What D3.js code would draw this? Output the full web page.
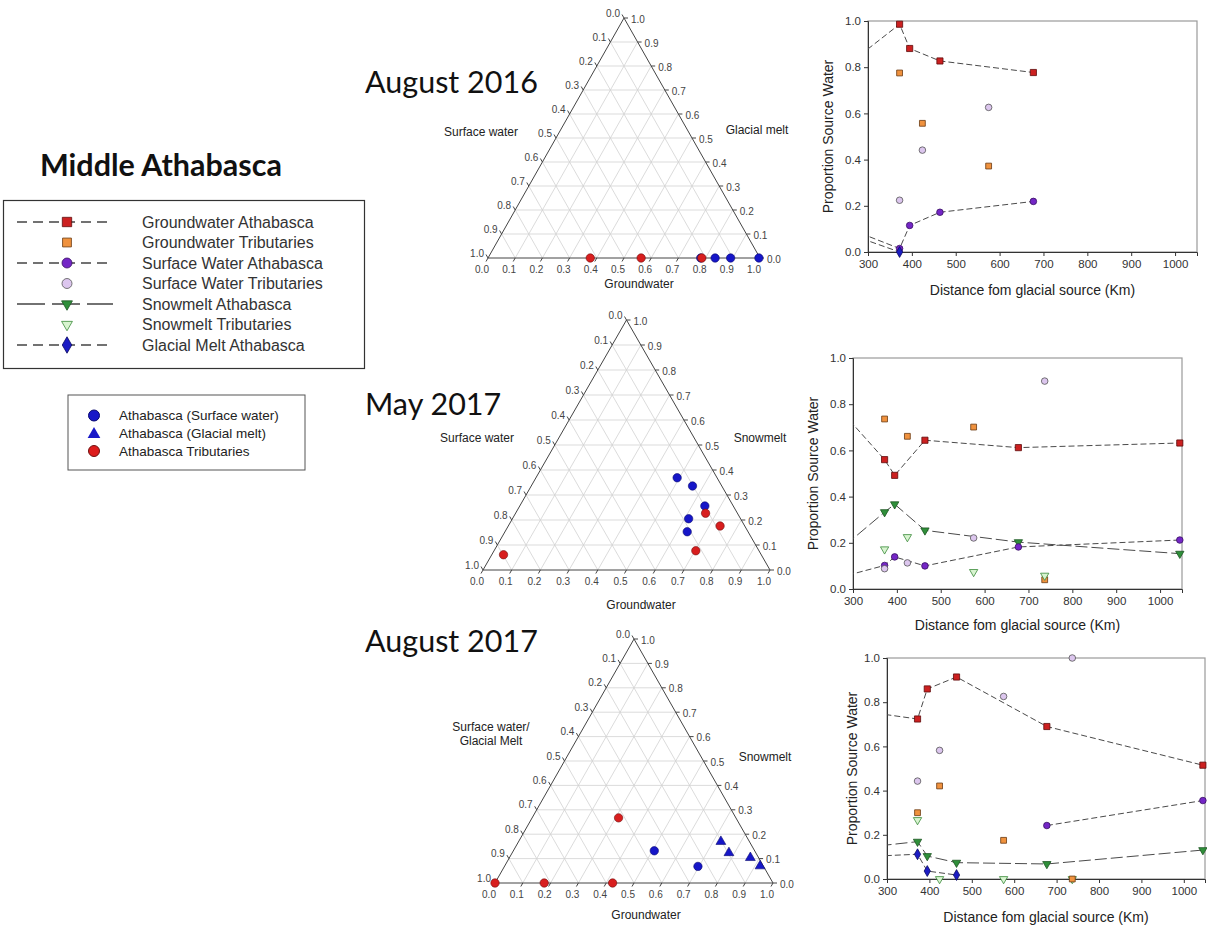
<!DOCTYPE html>
<html>
<head>
<meta charset="utf-8">
<script src="https://cdn.jsdelivr.net/npm/d3@7"></script>
<style>
  body { margin: 0; background: #fff; }
  svg { display: block; }
  text { font-family: Arial, "Liberation Sans", sans-serif; }
</style>
</head>
<body>
<div id="chart"></div>
<script>
// ---- data ----
// sampling sites, km from glacial source (first Athabasca site lies upstream of the plotted range)
var athKm  = [170, 372, 395, 464, 677, 1045];
var tribKm = [372, 424, 575, 737];

// August 2016 proportions
var gwAth16  = [0.686, 0.986, 0.881, 0.827, 0.777, null];
var swAth16  = [0.165, 0.015, 0.115, 0.172, 0.219, null];
var gmAth16  = [0.136, 0.000, null,  null,  null,  null];
var gwTrib16 = [0.775, 0.557, 0.372, null];
var swTrib16 = [0.224, 0.441, 0.626, null];

// May 2017 proportions
var gwAth17a  = [0.990, 0.560, 0.492, 0.644, 0.612, 0.632];
var swAth17a  = [0.000, 0.102, 0.139, 0.100, 0.182, 0.212];
var snAth17a  = [0.010, 0.333, 0.367, 0.254, 0.203, 0.153];
var gwTrib17a = [0.736, 0.661, 0.701, 0.040];
var swTrib17a = [0.088, 0.113, 0.221, 0.900];
var snTrib17a = [0.172, 0.225, 0.074, 0.058];

// August 2017 proportions
var gwAth17b  = [0.778, 0.724, 0.860, 0.914, 0.690, 0.515];
var swAth17b  = [null,  null,  null,  null,  0.242, 0.355];
var snAth17b  = [0.127, 0.169, 0.104, 0.074, 0.068, 0.131];
var gmAth17b  = [0.095, 0.112, 0.036, 0.018, null,  null];
var gwTrib17b = [0.300, 0.421, 0.175, 0.000];
var swTrib17b = [0.443, 0.582, 0.826, 1.000];
var snTrib17b = [0.267, 0.000, 0.000, 0.000];

// ternary diagrams: groundwater share (bottom axis) and top-corner share
var tGwAth16   = [0.782, 0.835, 0.892, 0.996];
var tTopAth16  = [0, 0, 0, 0];
var tGwTrib16  = [0.376, 0.563, 0.786];
var tTopTrib16 = [0, 0, 0];

var tGwAth17a   = [0.492, 0.562, 0.645, 0.614, 0.635];
var tTopAth17a  = [0.369, 0.336, 0.256, 0.205, 0.153];
var tGwTrib17a  = [0.662, 0.738, 0.703, 0.041];
var tTopTrib17a = [0.227, 0.176, 0.077, 0.061];

var tGwSw17b    = [0.507, 0.696];
var tTopSw17b   = [0.132, 0.068];
var tGwGm17b    = [0.726, 0.778, 0.865, 0.917];
var tTopGm17b   = [0.173, 0.127, 0.107, 0.073];
var tGwTrib17b  = [0.311, 0.000, 0.177, 0.423];
var tTopTrib17b = [0.267, 0.000, 0.000, 0.000];

var legendNames = ["Groundwater Athabasca", "Groundwater Tributaries", "Surface Water Athabasca",
                   "Surface Water Tributaries", "Snowmelt Athabasca", "Snowmelt Tributaries",
                   "Glacial Melt Athabasca"];
var legendKeys = ["gwAth", "gwTrib", "swAth", "swTrib", "snAth", "snTrib", "gmAth"];
var ternNames = ["Athabasca (Surface water)", "Athabasca (Glacial melt)", "Athabasca Tributaries"];
var tickFrac = d3.range(0, 11).map(function(i){ return i / 10; });

// ---- styles ----
var styles = {
  gwAth:  { shape: d3.symbolSquare,   size: 38, fill: "#cc2020", stroke: "#5e0b0b", dash: "6,3" },
  gwTrib: { shape: d3.symbolSquare,   size: 34, fill: "#f0923e", stroke: "#6a3a12" },
  swAth:  { shape: d3.symbolCircle,   size: 34, fill: "#7426c6", stroke: "#3a1263", dash: "6,3" },
  swTrib: { shape: d3.symbolCircle,   size: 34, fill: "#dcc6ee", stroke: "#555" },
  snAth:  { shape: d3.symbolTriangle, size: 30, fill: "#2f8f3a", stroke: "#1d5522", dash: "12,4", flip: true },
  snTrib: { shape: d3.symbolTriangle, size: 30, fill: "#d8f4d0", stroke: "#3a8a3a", flip: true },
  gmAth:  { shape: d3.symbolDiamond,  size: 34, fill: "#1c1cc4", stroke: "#0b0b60", dash: "6,3" }
};

var svg = d3.select("#chart").append("svg")
  .attr("width", 1207).attr("height", 926);
svg.append("rect").attr("width", 1207).attr("height", 926).attr("fill", "#fff");

function marker(sel, st, scale) {
  sel.append("path")
    .attr("d", d3.symbol().type(st.shape).size(st.size * (scale || 1)))
    .attr("fill", st.fill)
    .attr("stroke", st.stroke)
    .attr("stroke-width", 0.8);
}

// ---- titles ----
svg.append("text").attr("x", 40).attr("y", 176)
  .style("font-family", "Lato, 'Open Sans', sans-serif")
  .style("font-weight", "bold").style("font-size", "30.5px").attr("fill", "#111")
  .text("Middle Athabasca");

var panelTitles = [["August 2016", 93], ["May 2017", 415], ["August 2017", 652]];
svg.selectAll(".ptitle").data(panelTitles).enter().append("text")
  .attr("x", 365).attr("y", function(d){ return d[1]; })
  .style("font-family", "Lato, 'Open Sans', sans-serif")
  .style("font-size", "30.5px").attr("fill", "#111")
  .text(function(d){ return d[0]; });

// ---- legend 1 ----
var leg = svg.append("g");
leg.append("rect").attr("x", 3.5).attr("y", 200.5).attr("width", 361).attr("height", 168)
  .attr("fill", "#fff").attr("stroke", "#333").attr("stroke-width", 1.2);
var legY = d3.scalePoint().domain(legendKeys).range([222, 345]);
legendKeys.forEach(function(k, i){
  var st = styles[k];
  var row = leg.append("g").attr("transform", "translate(0," + legY(k) + ")");
  if (st.dash) {
    row.append("line").attr("x1", 17).attr("x2", 113)
      .attr("stroke", "#444").attr("stroke-width", 1.6)
      .attr("stroke-dasharray", k === "snAth" ? "28,7" : "10,6");
  }
  var m = row.append("g").attr("transform", "translate(67,0)" + (st.flip ? " rotate(180)" : ""));
  marker(m, st, st.flip ? 1.7 : 2.3);
  row.append("text").attr("x", 142).attr("y", 5.5)
    .style("font-size", "16px").attr("fill", "#333").text(legendNames[i]);
});

// ---- legend 2 ----
var leg2 = svg.append("g");
leg2.append("rect").attr("x", 68).attr("y", 395).attr("width", 237).attr("height", 75)
  .attr("fill", "#fff").attr("stroke", "#555");
var leg2Y = d3.scalePoint().domain(ternNames).range([415.5, 451]);
ternNames.forEach(function(n, i){
  var y = leg2Y(n);
  if (i === 1) {
    leg2.append("path").attr("transform", "translate(94," + (y + 1) + ")")
      .attr("d", d3.symbol().type(d3.symbolTriangle).size(70)).attr("fill", "#1818c8");
  } else {
    leg2.append("circle").attr("cx", 94).attr("cy", y).attr("r", 5.5)
      .attr("fill", i === 0 ? "#1818c8" : "#dd1c1c").attr("stroke", i === 0 ? "#0a0a70" : "#701010");
  }
  leg2.append("text").attr("x", 119).attr("y", y + 4.5)
    .style("font-size", "13.5px").attr("fill", "#222").text(n);
});

// ---- ternary diagrams ----
function drawTernary(o) {
  var g = svg.append("g");
  var xs = d3.scaleLinear().domain([0, 1]).range([o.x0, o.x1]);
  var ys = d3.scaleLinear().domain([0, 1]).range([o.yb, o.yb - o.h]);
  function pt(gw, top) { return [xs(gw + top / 2), ys(top)]; }

  var grid = [];
  tickFrac.slice(1, 10).forEach(function(k){
    grid.push([pt(0, k), pt(1 - k, k)]);
    grid.push([pt(k, 0), pt(k, 1 - k)]);
    grid.push([pt(1 - k, 0), pt(0, 1 - k)]);
  });
  g.selectAll(".grid").data(grid).enter().append("line")
    .attr("x1", function(d){ return d[0][0]; }).attr("y1", function(d){ return d[0][1]; })
    .attr("x2", function(d){ return d[1][0]; }).attr("y2", function(d){ return d[1][1]; })
    .attr("stroke", "#d2d2d2").attr("stroke-width", 0.8);

  g.append("path")
    .attr("d", d3.line()([pt(0, 0), pt(1, 0), pt(0, 1)]) + "Z")
    .attr("fill", "none").attr("stroke", "#444").attr("stroke-width", 1);

  var f = d3.format(".1f");
  var ticks = [];
  tickFrac.forEach(function(v){
    ticks.push({ p: pt(v, 0), d: [-2, 3.5], lx: -6, ly: 11, anchor: "middle", t: f(v) });
    ticks.push({ p: pt(0, 1 - v), d: [-2, -3.5], lx: -4, ly: -5, anchor: "end", t: f(v) });
    ticks.push({ p: pt(1 - v, v), d: [4, 0], lx: 7, ly: 1, anchor: "start", t: f(v) });
  });
  g.selectAll(".tk").data(ticks).enter().append("line")
    .attr("x1", function(d){ return d.p[0]; }).attr("y1", function(d){ return d.p[1]; })
    .attr("x2", function(d){ return d.p[0] + d.d[0]; }).attr("y2", function(d){ return d.p[1] + d.d[1]; })
    .attr("stroke", "#444");
  g.selectAll(".tl").data(ticks).enter().append("text")
    .attr("x", function(d){ return d.p[0] + d.lx; })
    .attr("y", function(d){ return d.p[1] + d.ly; })
    .attr("dy", "0.35em").attr("text-anchor", function(d){ return d.anchor; })
    .style("font-size", "10px").attr("fill", "#444")
    .text(function(d){ return d.t; });

  o.labels.forEach(function(l){
    g.append("text").attr("x", l[1]).attr("y", l[2]).attr("dy", "0.35em")
      .attr("text-anchor", "middle").style("font-size", "12px").attr("fill", "#222").text(l[0]);
  });

  o.sets.forEach(function(s){
    s.gw.forEach(function(gw, i){
      var p = pt(gw, s.top[i]);
      if (s.tri) {
        g.append("path").attr("transform", "translate(" + p[0] + "," + (p[1] + 0.8) + ")")
          .attr("d", d3.symbol().type(d3.symbolTriangle).size(42))
          .attr("fill", s.fill).attr("stroke", s.stroke).attr("stroke-width", 0.6);
      } else {
        g.append("circle").attr("cx", p[0]).attr("cy", p[1]).attr("r", 4.2)
          .attr("fill", s.fill).attr("stroke", s.stroke).attr("stroke-width", 0.6);
      }
    });
  });
}

var blue = "#1616c8", blueEdge = "#0a0a6e", red = "#d81e1e", redEdge = "#6e0e0e";

drawTernary({
  x0: 488, x1: 760, yb: 258, h: 240,
  labels: [["Surface water", 481, 132], ["Glacial melt", 757, 130], ["Groundwater", 639, 284]],
  sets: [
    { gw: tGwAth16, top: tTopAth16, fill: blue, stroke: blueEdge },
    { gw: tGwTrib16, top: tTopTrib16, fill: red, stroke: redEdge }
  ]
});
drawTernary({
  x0: 483, x1: 770, yb: 570, h: 250,
  labels: [["Surface water", 477, 438], ["Snowmelt", 760, 438], ["Groundwater", 641, 605]],
  sets: [
    { gw: tGwAth17a, top: tTopAth17a, fill: blue, stroke: blueEdge },
    { gw: tGwTrib17a, top: tTopTrib17a, fill: red, stroke: redEdge }
  ]
});
drawTernary({
  x0: 495, x1: 773, yb: 883, h: 244,
  labels: [["Surface water/", 491, 727], ["Glacial Melt", 491, 741], ["Snowmelt", 765, 757], ["Groundwater", 646, 915]],
  sets: [
    { gw: tGwSw17b, top: tTopSw17b, fill: blue, stroke: blueEdge },
    { gw: tGwGm17b, top: tTopGm17b, fill: blue, stroke: blueEdge, tri: true },
    { gw: tGwTrib17b, top: tTopTrib17b, fill: red, stroke: redEdge }
  ]
});

// ---- distance scatter plots ----
var clipId = 0;
function drawScatter(o) {
  var g = svg.append("g");
  var x = d3.scaleLinear().domain([300, 1050]).range([o.l, o.r]);
  var y = d3.scaleLinear().domain([0, 1]).range([o.b, o.t]);
  var id = "clip" + (clipId++);
  g.append("clipPath").attr("id", id).append("rect")
    .attr("x", o.l).attr("y", o.t - 6).attr("width", o.r - o.l + 6).attr("height", o.b - o.t + 12);

  g.append("rect").attr("x", o.l).attr("y", o.t).attr("width", o.r - o.l).attr("height", o.b - o.t)
    .attr("fill", "none").attr("stroke", "#9a9a9a").attr("stroke-width", 1.2);

  var ax = g.append("g").attr("transform", "translate(0," + o.b + ")")
    .call(d3.axisBottom(x).tickValues(d3.range(300, 1001, 100)).tickFormat(d3.format("d"))
      .tickSize(4).tickPadding(4));
  var ay = g.append("g").attr("transform", "translate(" + o.l + ",0)")
    .call(d3.axisLeft(y).tickValues(d3.range(0, 1.01, 0.2)).tickFormat(d3.format(".1f")).tickSize(4).tickPadding(3));
  [ax, ay].forEach(function(a){
    a.selectAll("path").attr("stroke", "#333");
    a.selectAll("line").attr("stroke", "#333");
    a.selectAll("text").style("font-size", "11.5px").attr("fill", "#333")
      .style("font-family", "Arial, 'Liberation Sans', sans-serif");
  });

  g.append("text").attr("transform", "translate(" + o.yLabX + "," + ((o.t + o.b) / 2) + ") rotate(-90)")
    .attr("text-anchor", "middle").attr("dy", "0.35em")
    .style("font-size", "14px").attr("fill", "#222").text("Proportion Source Water");
  g.append("text").attr("x", (o.l + o.r) / 2).attr("y", o.xLabY)
    .attr("text-anchor", "middle").style("font-size", "14px").attr("fill", "#222")
    .text("Distance fom glacial source (Km)");

  var plot = g.append("g").attr("clip-path", "url(#" + id + ")");
  o.series.forEach(function(s){
    var st = styles[s.key];
    var pts = s.v.map(function(v, i){ return [s.km[i], v]; });
    if (st.dash) {
      plot.append("path")
        .attr("d", d3.line().defined(function(d){ return d[1] != null; })
          .x(function(d){ return x(d[0]); }).y(function(d){ return y(d[1]); })(pts))
        .attr("fill", "none").attr("stroke", "#4a4a4a").attr("stroke-width", 1)
        .attr("stroke-dasharray", st.dash);
    }
  });
  o.series.forEach(function(s){
    var st = styles[s.key];
    s.v.forEach(function(v, i){
      if (v == null) return;
      var m = plot.append("g").attr("transform", "translate(" + x(s.km[i]) + "," + y(v) + ")" + (st.flip ? " rotate(180)" : ""));
      marker(m, st, 1);
    });
  });
}

drawScatter({
  l: 868, r: 1197, t: 21, b: 252, yLabX: 828, xLabY: 295,
  series: [
    { key: "gwAth", km: athKm, v: gwAth16 },
    { key: "swAth", km: athKm, v: swAth16 },
    { key: "gmAth", km: athKm, v: gmAth16 },
    { key: "gwTrib", km: tribKm, v: gwTrib16 },
    { key: "swTrib", km: tribKm, v: swTrib16 }
  ]
});
drawScatter({
  l: 853, r: 1182, t: 358, b: 589, yLabX: 813, xLabY: 630,
  series: [
    { key: "gwAth", km: athKm, v: gwAth17a },
    { key: "snAth", km: athKm, v: snAth17a },
    { key: "swAth", km: athKm, v: swAth17a },
    { key: "gwTrib", km: tribKm, v: gwTrib17a },
    { key: "swTrib", km: tribKm, v: swTrib17a },
    { key: "snTrib", km: tribKm, v: snTrib17a }
  ]
});
drawScatter({
  l: 887, r: 1205, t: 658, b: 879, yLabX: 852, xLabY: 922,
  series: [
    { key: "gwAth", km: athKm, v: gwAth17b },
    { key: "snAth", km: athKm, v: snAth17b },
    { key: "gmAth", km: athKm, v: gmAth17b },
    { key: "swAth", km: athKm, v: swAth17b },
    { key: "snTrib", km: tribKm, v: snTrib17b },
    { key: "gwTrib", km: tribKm, v: gwTrib17b },
    { key: "swTrib", km: tribKm, v: swTrib17b }
  ]
});
</script>
</body>
</html>
